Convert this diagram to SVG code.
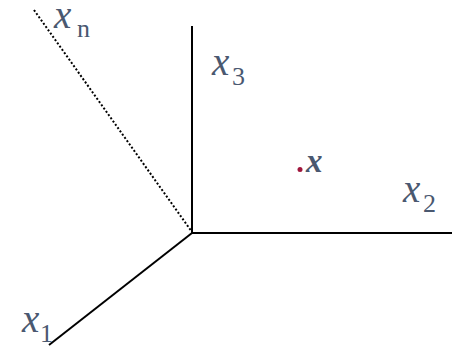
<svg xmlns="http://www.w3.org/2000/svg" width="452" height="347" viewBox="0 0 452 347">
<style>
.ax{stroke:#000;stroke-width:2;fill:none}
.dot{stroke:#000;stroke-width:2;stroke-dasharray:2 2;fill:none}
text{font-family:'Liberation Serif','Times New Roman',serif;fill:#4a5870}
.v{font-style:italic;font-size:39px}
.s{font-size:26px}
</style>
<rect width="452" height="347" fill="#fff"/>
<g id="connectors">
<line class="ax" x1="192" y1="26" x2="192" y2="234"/>
<line class="ax" x1="191" y1="233" x2="452" y2="233"/>
<line class="ax" x1="192" y1="233" x2="49" y2="345"/>
<line class="dot" x1="34" y1="10" x2="192" y2="232"/>
</g>
<g id="xn"><text x="54" y="28" class="v">x</text><text x="77" y="37" class="s">n</text></g>
<g id="x3"><text x="212" y="75" class="v">x</text><text x="232" y="85" class="s">3</text></g>
<g id="x2"><text x="403" y="202" class="v">x</text><text x="423" y="212" class="s">2</text></g>
<g id="x1"><text x="22" y="332" class="v">x</text><text x="40" y="342" class="s">1</text></g>
<g id="x"><circle cx="300" cy="169.5" r="2.5" fill="#a0163c"/><text x="306" y="172" font-style="italic" font-weight="bold" font-size="33">x</text></g>
</svg>
